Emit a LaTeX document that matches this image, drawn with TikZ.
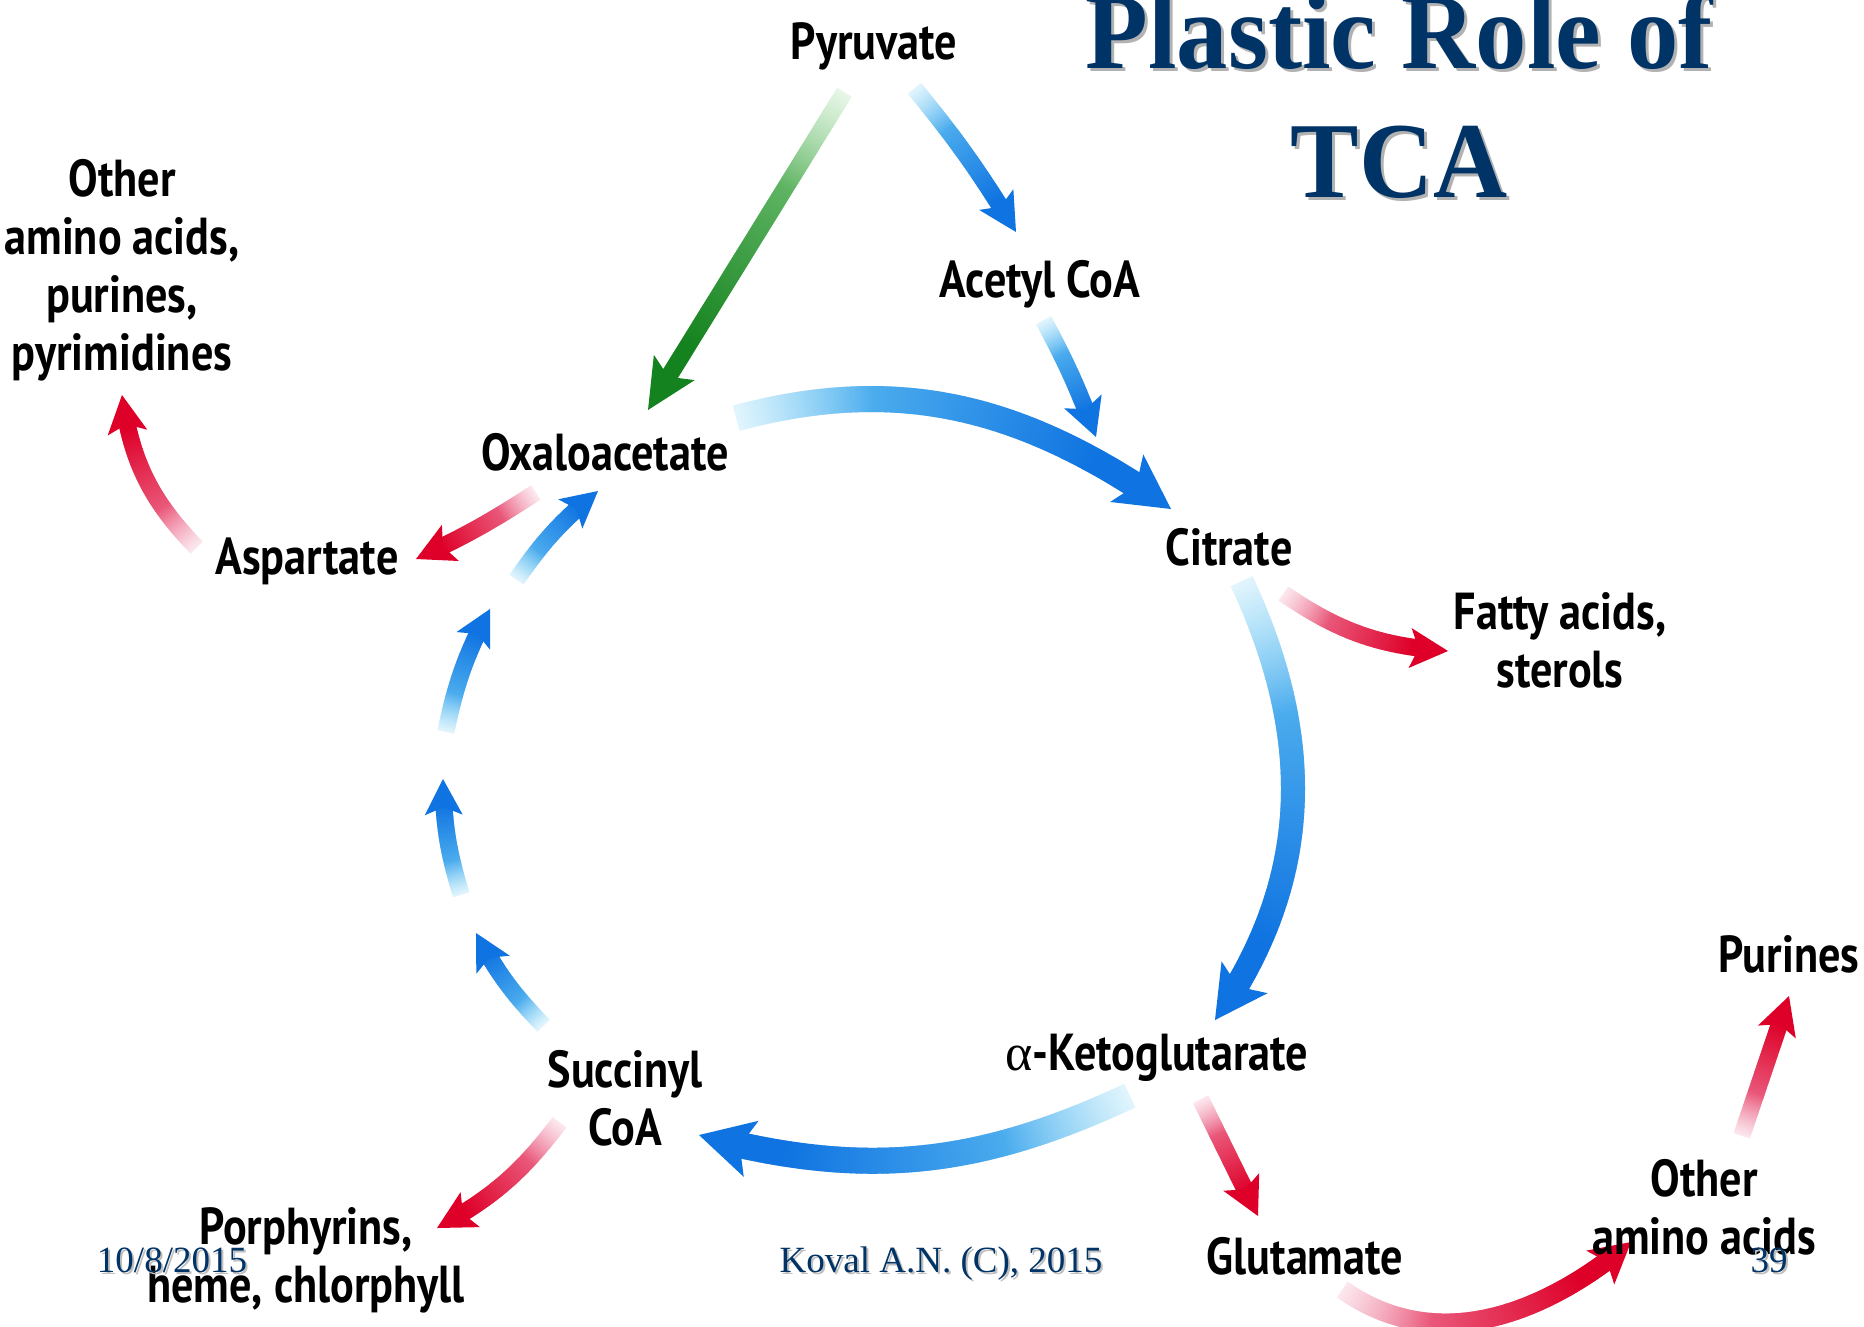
\documentclass[tikz,border=0pt]{standalone}
\usepackage{fontspec}
\usetikzlibrary{decorations.markings}
\newfontfamily\lblfont{PT Sans}[FakeStretch=0.85]
\newfontfamily\ttlfont{Liberation Serif}[FakeStretch=0.95]
\newfontfamily\ftrfont{Liberation Serif}
\definecolor{navy}{RGB}{0,51,102}
\definecolor{bluehead}{RGB}{15,115,225}
\definecolor{bluetail}{RGB}{110,205,245}
\definecolor{redhead}{RGB}{222,0,40}
\definecolor{redtail}{RGB}{240,140,170}
\definecolor{greenhead}{RGB}{20,130,30}
\definecolor{greentail}{RGB}{140,210,140}

% one slice of a shaded arrow body: #1 tail colour, #2 head colour, #3 width, #4 head length
\newcommand\flowpiece[4]{%
  \pgfmathsetmacro\fd{\pgfkeysvalueof{/pgf/decoration/mark info/distance from start}}%
  \pgfmathsetmacro\fl{\pgfdecoratedpathlength}%
  \pgfmathtruncatemacro\fok{(\fd < \fl - 0.75*#4) ? 1 : 0}%
  \ifnum\fok=1
    \pgfmathsetmacro\ff{\fd/\fl}%
    \pgfmathsetmacro\fp{100*min(1,\ff/0.8)}%
    \pgfmathsetmacro\fq{100*min(1,0.2+0.8*\ff/0.3)}%
    \fill[fill={#2!\fp!#1!\fq!white}] ({-0.9pt},{-#3*0.5pt}) rectangle ({0.9pt},{#3*0.5pt});%
  \fi}
% arrow head, placed 3pt before the path end: #1 colour, #2 length, #3 width
\newcommand\flowhead[3]{%
  \fill[#1] (3pt,0pt) -- ({3pt-#2*1pt},{#3*0.5pt}) -- ({3pt-#2*0.78pt},0pt)
    -- ({3pt-#2*1pt},{-#3*0.5pt}) -- cycle;}
% shaded arrow along a path: tail colour, head colour, width, head length, head width, path
\newcommand\flowarrow[6]{%
  \path[decorate,decoration={markings,
    mark=between positions 0 and 1 step 1.2pt with {\flowpiece{#1}{#2}{#3}{#4}}}] #6;
  \path[decorate,decoration={markings,
    mark=at position -3pt with {\flowhead{#2}{#4}{#5}}}] #6;}

\begin{document}
\begin{tikzpicture}[x=1pt,y=1pt,
  lbl/.style={font=\lblfont\bfseries\fontsize{52}{58}\selectfont, inner sep=0pt, anchor=base, align=center},
  ttl/.style={font=\ttlfont\bfseries\fontsize{108}{130}\selectfont, text=navy, inner sep=0pt, anchor=base},
  ftr/.style={font=\ftrfont\fontsize{37}{44}\selectfont, text=navy, inner sep=0pt, anchor=base}]
\useasboundingbox (0,0) rectangle (1864,-1326);
\fill[white] (0,0) rectangle (1864,-1326);

% arrow end points
\coordinate (gT) at (844,-93);   \coordinate (gH) at (648,-410);
\coordinate (pT) at (915,-89);   \coordinate (pH) at (1016,-232);
\coordinate (aT) at (1044,-321); \coordinate (aH) at (1096,-437);
\coordinate (cT) at (737,-418);  \coordinate (cH) at (1171,-509);
\coordinate (kT) at (1242,-582); \coordinate (kH) at (1215,-1020);
\coordinate (sT) at (1129,-1096);\coordinate (sH) at (699,-1135);
\coordinate (l1T) at (543,-1025);\coordinate (l1H) at (476,-933);
\coordinate (l2T) at (461,-894); \coordinate (l2H) at (443,-779);
\coordinate (l3T) at (446,-731); \coordinate (l3H) at (490,-609);
\coordinate (l4T) at (517,-579); \coordinate (l4H) at (598,-491);
\coordinate (r1T) at (535,-493); \coordinate (r1H) at (416,-559);
\coordinate (r2T) at (196,-547); \coordinate (r2H) at (122,-395);
\coordinate (r3T) at (1284,-594);\coordinate (r3H) at (1448,-651);
\coordinate (r4T) at (559,-1123);\coordinate (r4H) at (437,-1228);
\coordinate (r5T) at (1201,-1100);\coordinate (r5H) at (1258,-1216);
\coordinate (r6T) at (1343,-1290);\coordinate (r6H) at (1631,-1242);
\coordinate (r7T) at (1742,-1135);\coordinate (r7H) at (1789,-996);

% cycle and feeding arrows
\flowarrow{greentail}{greenhead}{17}{50}{48}{(gT) -- (gH)}
\flowarrow{bluetail}{bluehead}{17}{38}{40}{(pT) to[bend left=4] (pH)}
\flowarrow{bluetail}{bluehead}{17}{38}{40}{(aT) to[bend left=4] (aH)}
\flowarrow{bluetail}{bluehead}{26}{54}{58}{(cT) to[out=15,in=145] (cH)}
\flowarrow{bluetail}{bluehead}{24}{52}{56}{(kT) to[out=-65,in=55] (kH)}
\flowarrow{bluetail}{bluehead}{26}{54}{58}{(sT) to[out=205,in=-15] (sH)}
\flowarrow{bluetail}{bluehead}{17}{36}{38}{(l1T) to[bend left=8] (l1H)}
\flowarrow{bluetail}{bluehead}{17}{36}{38}{(l2T) to[bend left=8] (l2H)}
\flowarrow{bluetail}{bluehead}{17}{36}{38}{(l3T) to[bend left=8] (l3H)}
\flowarrow{bluetail}{bluehead}{17}{36}{38}{(l4T) to[bend left=8] (l4H)}

% biosynthetic outflow arrows
\flowarrow{redtail}{redhead}{17}{38}{40}{(r1T) to[bend left=4] (r1H)}
\flowarrow{redtail}{redhead}{17}{38}{40}{(r2T) to[bend left=18] (r2H)}
\flowarrow{redtail}{redhead}{17}{38}{40}{(r3T) to[bend right=15] (r3H)}
\flowarrow{redtail}{redhead}{17}{38}{40}{(r4T) to[bend left=12] (r4H)}
\flowarrow{redtail}{redhead}{17}{38}{40}{(r5T) -- (r5H)}
\flowarrow{redtail}{redhead}{19}{40}{44}{(r6T) to[out=-35,in=220] (r6H)}
\flowarrow{redtail}{redhead}{17}{38}{40}{(r7T) -- (r7H)}

% metabolites (multi-line labels sit on the baseline of their last line)
\node[lbl] (pyr) at (874,-59) {Pyruvate};
\node[lbl] (acoa) at (1040,-297) {Acetyl CoA};
\node[lbl] (oaa) at (605,-470) {Oxaloacetate};
\node[lbl] (cit) at (1229,-565) {Citrate};
\node[lbl] (asp) at (307,-574) {Aspartate};
\node[lbl] (aa1) at (122,-370) {Other\\amino acids,\\purines,\\pyrimidines};
\node[lbl] (fa) at (1560,-687) {Fatty acids,\\sterols};
\node[lbl] (akg) at (1157,-1070) {{\ftrfont\mdseries α}-Ketoglutarate};
\node[lbl] (scoa) at (625,-1145) {Succinyl\\CoA};
\node[lbl] (por) at (306,-1302) {Porphyrins,\\heme, chlorphyll};
\node[lbl] (glu) at (1305,-1274) {Glutamate};
\node[lbl] (aa2) at (1704,-1254) {Other\\amino acids};
\node[lbl] (pur) at (1789,-972) {Purines};

% title with its shadow
\node[ttl, text=black!30] (t1s) at (1402,-71) {Plastic Role of};
\node[ttl, text=black!30] (t2s) at (1402,-200) {TCA};
\node[ttl] (t1) at (1399,-68) {Plastic Role of};
\node[ttl] (t2) at (1399,-197) {TCA};

% slide footer
\node[ftr, text=black!25] (dates) at (174,-1274) {10/8/2015};
\node[ftr, text=black!25] (auths) at (943,-1274) {Koval A.N. (C), 2015};
\node[ftr, text=black!25] (pages) at (1771,-1274) {39};
\node[ftr] (date) at (172,-1272) {10/8/2015};
\node[ftr] (auth) at (941,-1272) {Koval A.N. (C), 2015};
\node[ftr] (page) at (1769,-1272) {39};
\end{tikzpicture}
\end{document}
